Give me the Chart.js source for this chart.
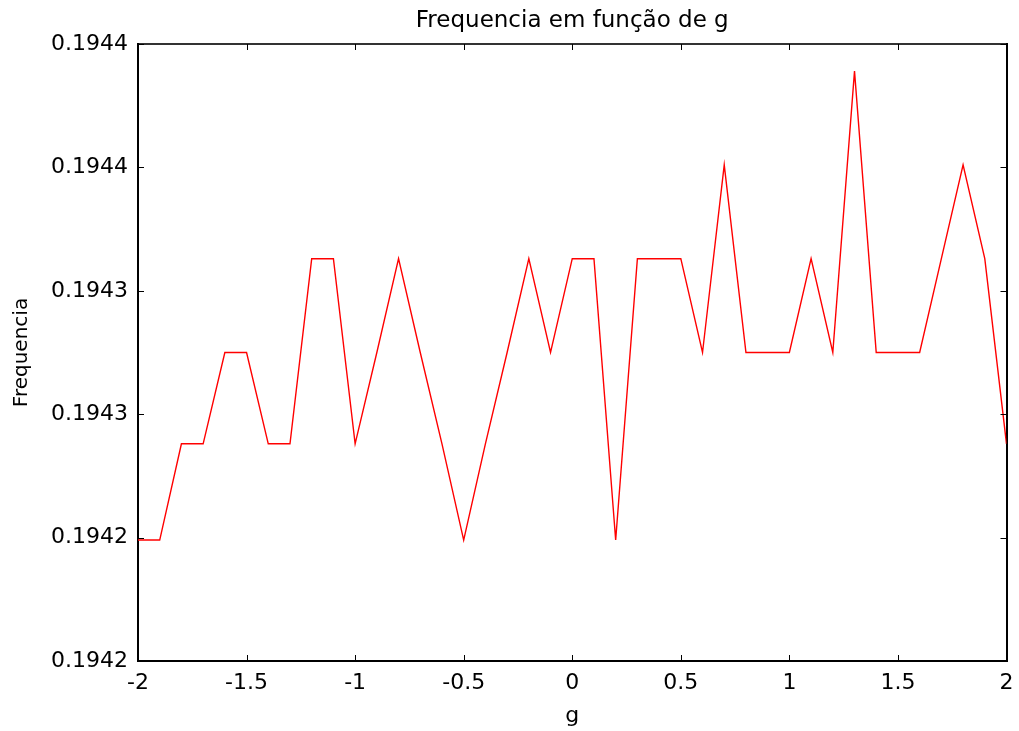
<!DOCTYPE html>
<html>
<head>
<meta charset="utf-8">
<script src="https://cdn.jsdelivr.net/npm/chart.js@4/dist/chart.umd.min.js"></script>
<style>
  html, body { margin: 0; padding: 0; background: #ffffff; }
  #wrap { width: 1019px; height: 731px; }
</style>
</head>
<body>
<div id="wrap"><canvas id="c" width="1019" height="731"></canvas></div>
<script>
// ---- data ----
const gValues = [-2.0, -1.9, -1.8, -1.7, -1.6, -1.5, -1.4, -1.3, -1.2, -1.1,
                 -1.0, -0.9, -0.8, -0.7, -0.6, -0.5, -0.4, -0.3, -0.2, -0.1,
                  0.0,  0.1,  0.2,  0.3,  0.4,  0.5,  0.6,  0.7,  0.8,  0.9,
                  1.0,  1.1,  1.2,  1.3,  1.4,  1.5,  1.6,  1.7,  1.8,  1.9, 2.0];
const freqValues = [0.194249, 0.194249, 0.194288, 0.194288, 0.194325, 0.194325, 0.194288, 0.194288, 0.194363, 0.194363,
                    0.194288, 0.194325, 0.194363, 0.194325, 0.194288, 0.194249, 0.194288, 0.194325, 0.194363, 0.194325,
                    0.194363, 0.194363, 0.194249, 0.194363, 0.194363, 0.194363, 0.194325, 0.194401, 0.194325, 0.194325,
                    0.194325, 0.194363, 0.194325, 0.194439, 0.194325, 0.194325, 0.194325, 0.194363, 0.194401, 0.194363, 0.194288];
const xTickValues = [-2, -1.5, -1, -0.5, 0, 0.5, 1, 1.5, 2];
const xTickLabels = ['-2', '-1.5', '-1', '-0.5', '0', '0.5', '1', '1.5', '2'];
const yTickValues = [0.19420, 0.19425, 0.19430, 0.19435, 0.19440, 0.19445];
const yTickLabels = ['0.1942', '0.1942', '0.1943', '0.1943', '0.1944', '0.1944'];
const chartTitle = 'Frequencia em função de g';
const xTitle = 'g';
const yTitle = 'Frequencia';

const FONT = "'DejaVu Sans', sans-serif";

const points = gValues.map((g, i) => ({ x: g, y: freqValues[i] }));

const inwardTicks = {
  id: 'inwardTicks',
  afterDraw(chart) {
    const { ctx, chartArea: a } = chart;
    const xs = chart.scales.x, ys = chart.scales.y;
    const len = 6;
    ctx.save();
    ctx.strokeStyle = '#000000';
    ctx.lineWidth = 1;
    ctx.beginPath();
    xs.ticks.forEach(t => {
      const px = Math.round(xs.getPixelForValue(t.value)) + 0.5;
      ctx.moveTo(px, a.bottom); ctx.lineTo(px, a.bottom - len);
      ctx.moveTo(px, a.top); ctx.lineTo(px, a.top + len);
    });
    ys.ticks.forEach(t => {
      const py = Math.round(ys.getPixelForValue(t.value)) + 0.5;
      ctx.moveTo(a.left, py); ctx.lineTo(a.left + len, py);
      ctx.moveTo(a.right, py); ctx.lineTo(a.right - len, py);
    });
    ctx.stroke();
    ctx.restore();
  }
};

new Chart(document.getElementById('c'), {
  type: 'line',
  data: {
    datasets: [{
      data: points,
      borderColor: '#ff0000',
      borderWidth: 1.4,
      pointRadius: 0,
      pointHoverRadius: 0,
      tension: 0,
      fill: false
    }]
  },
  options: {
    responsive: false,
    animation: false,
    devicePixelRatio: 1,
    layout: { padding: 0 },
    plugins: { legend: { display: false }, tooltip: { enabled: false }, title: { display: false } },
    scales: {
      x: {
        type: 'linear', position: 'bottom', min: -2, max: 2,
        afterBuildTicks: s => { s.ticks = xTickValues.map(v => ({ value: v })); },
        afterFit: s => { s.height = 70; },
        grid: { display: false, drawTicks: true, tickLength: 4 },
        border: { display: true, color: '#000000', width: 2 },
        ticks: {
          color: '#000000', padding: 5, maxRotation: 0, autoSkip: false,
          font: { family: FONT, size: 22 },
          callback: (v, i) => xTickLabels[i]
        },
        title: { display: true, text: xTitle, color: '#000000',
                 font: { family: FONT, size: 22 }, padding: { top: 0, bottom: 2 } }
      },
      x2: {
        type: 'linear', position: 'top', min: -2, max: 2,
        afterFit: s => { s.height = 44; },
        grid: { display: false, drawTicks: false, tickLength: 0 },
        border: { display: true, color: '#333333', width: 2 },
        ticks: { display: false },
        title: { display: true, text: chartTitle, color: '#000000',
                 font: { family: FONT, size: 23 }, padding: { top: 7, bottom: 0 } }
      },
      y: {
        type: 'linear', position: 'left', min: 0.19420, max: 0.19445,
        afterBuildTicks: s => { s.ticks = yTickValues.map(v => ({ value: v })); },
        afterFit: s => { s.width = 138; },
        grid: { display: false, drawTicks: false, tickLength: 0 },
        border: { display: true, color: '#000000', width: 2 },
        ticks: {
          color: '#000000', padding: 10, autoSkip: false,
          font: { family: FONT, size: 22 },
          callback: (v, i) => yTickLabels[i]
        },
        title: { display: true, text: yTitle, color: '#000000',
                 font: { family: FONT, size: 20 }, padding: { top: 10, bottom: 0 } }
      },
      y2: {
        type: 'linear', position: 'right', min: 0.19420, max: 0.19445,
        afterFit: s => { s.width = 12.5; },
        grid: { display: false, drawTicks: false, tickLength: 0 },
        border: { display: true, color: '#000000', width: 2 },
        ticks: { display: false }
      }
    }
  },
  plugins: [inwardTicks]
});
</script>
</body>
</html>
